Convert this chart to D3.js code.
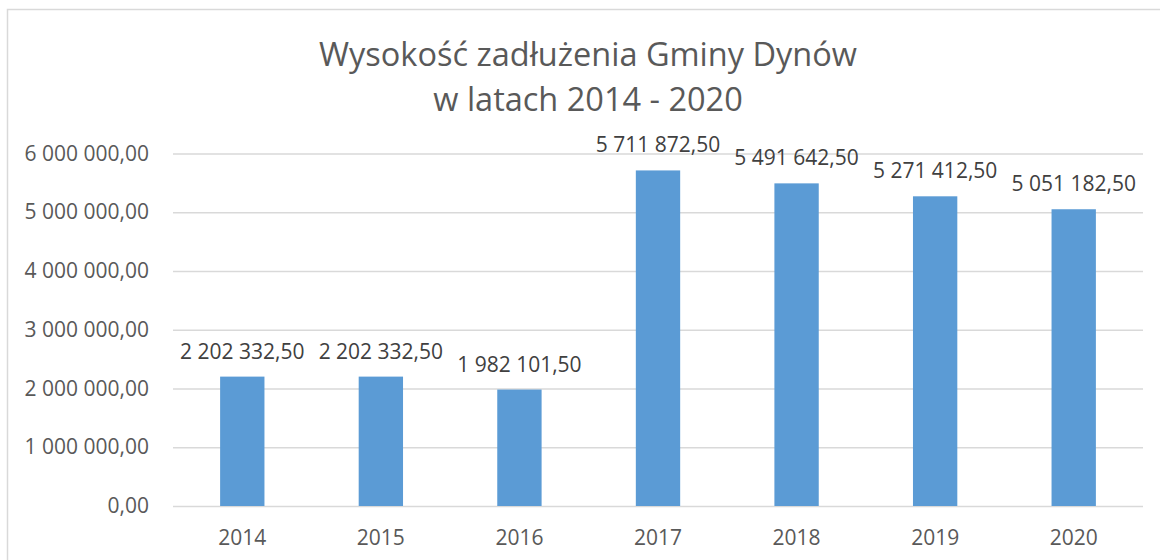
<!DOCTYPE html>
<html>
<head>
<meta charset="utf-8">
<script src="https://cdn.jsdelivr.net/npm/d3@7"></script>
<style>
  body { margin: 0; background: #fff; }
  text { font-family: "Open Sans", sans-serif; fill: #595959; }
</style>
</head>
<body>
<div id="chart"></div>
<script>
// data
const years = ["2014", "2015", "2016", "2017", "2018", "2019", "2020"];
const debt = [2202332.50, 2202332.50, 1982101.50, 5711872.50, 5491642.50, 5271412.50, 5051182.50];
const yTicks = [0, 1000000, 2000000, 3000000, 4000000, 5000000, 6000000];
const titleLines = ["Wysokość zadłużenia Gminy Dynów", "w latach 2014 - 2020"];

const W = 1160, H = 560;
var margin = {top: 153.5, right: 17, bottom: 54, left: 173},
    width = W - margin.left - margin.right,
    height = H - margin.top - margin.bottom;

let root = d3.select("#chart")
    .append("svg")
    .attr("width", W)
    .attr("height", H);

// chart frame
root.append("rect")
    .attr("x", 7.5)
    .attr("y", 9.5)
    .attr("width", W + 10)
    .attr("height", H + 10)
    .style("fill", "none")
    .style("stroke", "#d9d9d9")
    .style("stroke-width", 1.5);

// title
root.append("g")
    .selectAll("text")
    .data(titleLines)
    .enter()
    .append("text")
    .attr("x", 588)
    .attr("y", (d, i) => 66 + i * 45)
    .attr("text-anchor", "middle")
    .style("font-size", "32.5px")
    .text((d) => d);

let svg = root.append("g")
    .attr("transform", "translate(" + margin.left + "," + margin.top + ")");

// format: space thousands, comma decimals
const fmt = (v) => d3.format(",.2f")(v).replace(/,/g, " ").replace(".", ",");

// scales
var x = d3.scaleBand()
    .domain(years)
    .range([0, width])
    .paddingInner(0.68)
    .paddingOuter(0.34);

var y = d3.scaleLinear()
    .domain([0, 6000000])
    .range([height, 0]);

// gridlines + y labels
let yAxis = svg.append("g")
    .call(d3.axisLeft(y).tickValues(yTicks).tickSize(-width).tickPadding(24).tickFormat(fmt));
yAxis.select(".domain").remove();
yAxis.selectAll(".tick line").style("stroke", "#d9d9d9").style("stroke-width", 1.3);
yAxis.selectAll(".tick text").style("font-size", "21px").style("fill", "#595959")
    .style("font-family", "'Open Sans', sans-serif");

// x labels
let xAxis = svg.append("g")
    .attr("transform", "translate(0," + height + ")")
    .call(d3.axisBottom(x).tickSize(0).tickPadding(24));
xAxis.select(".domain").remove();
xAxis.selectAll(".tick text").style("font-size", "21px").style("fill", "#595959")
    .style("font-family", "'Open Sans', sans-serif");

// bars
svg.append("g")
    .selectAll("rect")
    .data(years)
    .enter()
    .append("rect")
    .attr("x", (d) => x(d))
    .attr("y", (d, i) => y(debt[i]))
    .attr("width", x.bandwidth())
    .attr("height", (d, i) => height - y(debt[i]))
    .style("fill", "#5b9bd5");

// value labels
svg.append("g")
    .selectAll("text")
    .data(years)
    .enter()
    .append("text")
    .attr("x", (d) => x(d) + x.bandwidth() / 2)
    .attr("y", (d, i) => y(debt[i]) - 18)
    .attr("text-anchor", "middle")
    .style("font-size", "21px")
    .style("fill", "#404040")
    .text((d, i) => fmt(debt[i]));
</script>
</body>
</html>
